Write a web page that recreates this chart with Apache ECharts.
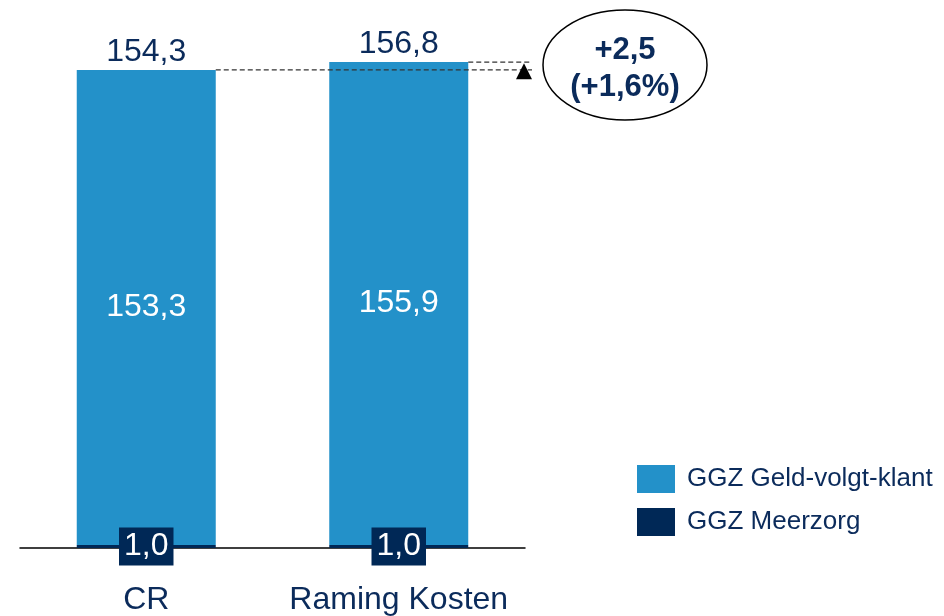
<!DOCTYPE html>
<html><head><meta charset="utf-8">
<script src="https://cdn.jsdelivr.net/npm/echarts@6/dist/echarts.min.js"></script>
<style>html,body{margin:0;padding:0;background:#fff}#c{width:944px;height:616px}</style>
</head><body><div id="c"></div>
<script>
var categories = ['CR', 'Raming Kosten'];
var meerzorg = [1.0, 1.0];
var geldVolgtKlant = [153.3, 155.9];
var totals = [154.3, 156.8];
var diffText = ['+2,5', '(+1,6%)'];

var NAVY = '#0b2b5b';
var DARK = '#002856';
var BLUE = '#2391c9';
var FF = '"Liberation Sans", Arial';
function fmt(v){ return v.toFixed(1).replace('.', ','); }

var chart = echarts.init(document.getElementById('c'));
var option = {
  animation: false,
  grid: { left: 20, right: 419, top: 52.3, bottom: 68 },
  legend: {
    orient: 'vertical', left: 632, top: 460, itemWidth: 38, itemHeight: 28, itemGap: 15,
    icon: 'rect',
    data: ['GGZ Geld-volgt-klant', 'GGZ Meerzorg'],
    textStyle: { color: NAVY, fontSize: 26, fontFamily: FF, padding: [0,0,0,7] }
  },
  xAxis: {
    type: 'category', data: categories,
    axisLine: { lineStyle: { color: '#000', width: 1.5 } },
    axisTick: { show: false },
    axisLabel: { interval: 0, hideOverlap: false, color: NAVY, fontSize: 32, fontFamily: FF, margin: 36 }
  },
  yAxis: { type: 'value', min: 0, max: 160, show: false, splitLine: { show: false } },
  series: [
    {
      name: 'GGZ Meerzorg', type: 'bar', stack: 's', data: meerzorg, barWidth: 139,
      itemStyle: { color: DARK }, z: 3,
      label: { show: true, position: 'inside', color: '#fff', fontSize: 32, fontFamily: FF, lineHeight: 34,
        backgroundColor: DARK, padding: [2, 5, 2, 5], formatter: function(p){ return fmt(p.value); } }
    },
    {
      name: 'GGZ Geld-volgt-klant', type: 'bar', stack: 's', data: geldVolgtKlant, barWidth: 139,
      itemStyle: { color: BLUE },
      label: { show: true, position: 'inside', color: '#fff', fontSize: 32, fontFamily: FF,
        formatter: function(p){ return fmt(p.value); } }
    },
    {
      name: 'total', type: 'bar', stack: 's', barWidth: 139,
      data: totals.map(function(){ return 0; }),
      itemStyle: { color: 'transparent' },
      label: { show: true, position: 'top', distance: 2, color: NAVY, fontSize: 32, fontFamily: FF,
        formatter: function(p){ return fmt(totals[p.dataIndex]); } }
    }
  ]
};
chart.setOption(option);

function addAnnotations(){
  var p0 = chart.convertToPixel({ gridIndex: 0 }, [0, totals[0]]);
  var p1 = chart.convertToPixel({ gridIndex: 0 }, [1, totals[1]]);
  var half = 139 / 2;
  var endX = 532;
  var ax = 524;
  var dash = { stroke: '#333', lineWidth: 1.2, lineDash: [5, 3] };
  chart.setOption({
    graphic: [
      { type: 'line', shape: { x1: p0[0] + half, y1: p0[1], x2: endX, y2: p0[1] }, style: dash, z: 10 },
      { type: 'line', shape: { x1: p1[0] + half, y1: p1[1], x2: endX, y2: p1[1] }, style: dash, z: 10 },
      { type: 'polygon', shape: { points: [[ax, p1[1] + 1], [ax - 8, p1[1] + 17], [ax + 8, p1[1] + 17]] },
        style: { fill: '#000' }, z: 11 },
      { type: 'ellipse', shape: { cx: 625, cy: 65, rx: 82, ry: 55 },
        style: { fill: 'none', stroke: '#000', lineWidth: 1.5 }, z: 10 },
      { type: 'text', x: 625, y: 50, style: { text: diffText[0], fill: NAVY, font: 'bold 31px "Liberation Sans", Arial',
        textAlign: 'center', textVerticalAlign: 'middle' }, z: 11 },
      { type: 'text', x: 625, y: 87, style: { text: diffText[1], fill: NAVY, font: 'bold 31px "Liberation Sans", Arial',
        textAlign: 'center', textVerticalAlign: 'middle' }, z: 11 }
    ]
  });
}
addAnnotations();
</script>
</body></html>
